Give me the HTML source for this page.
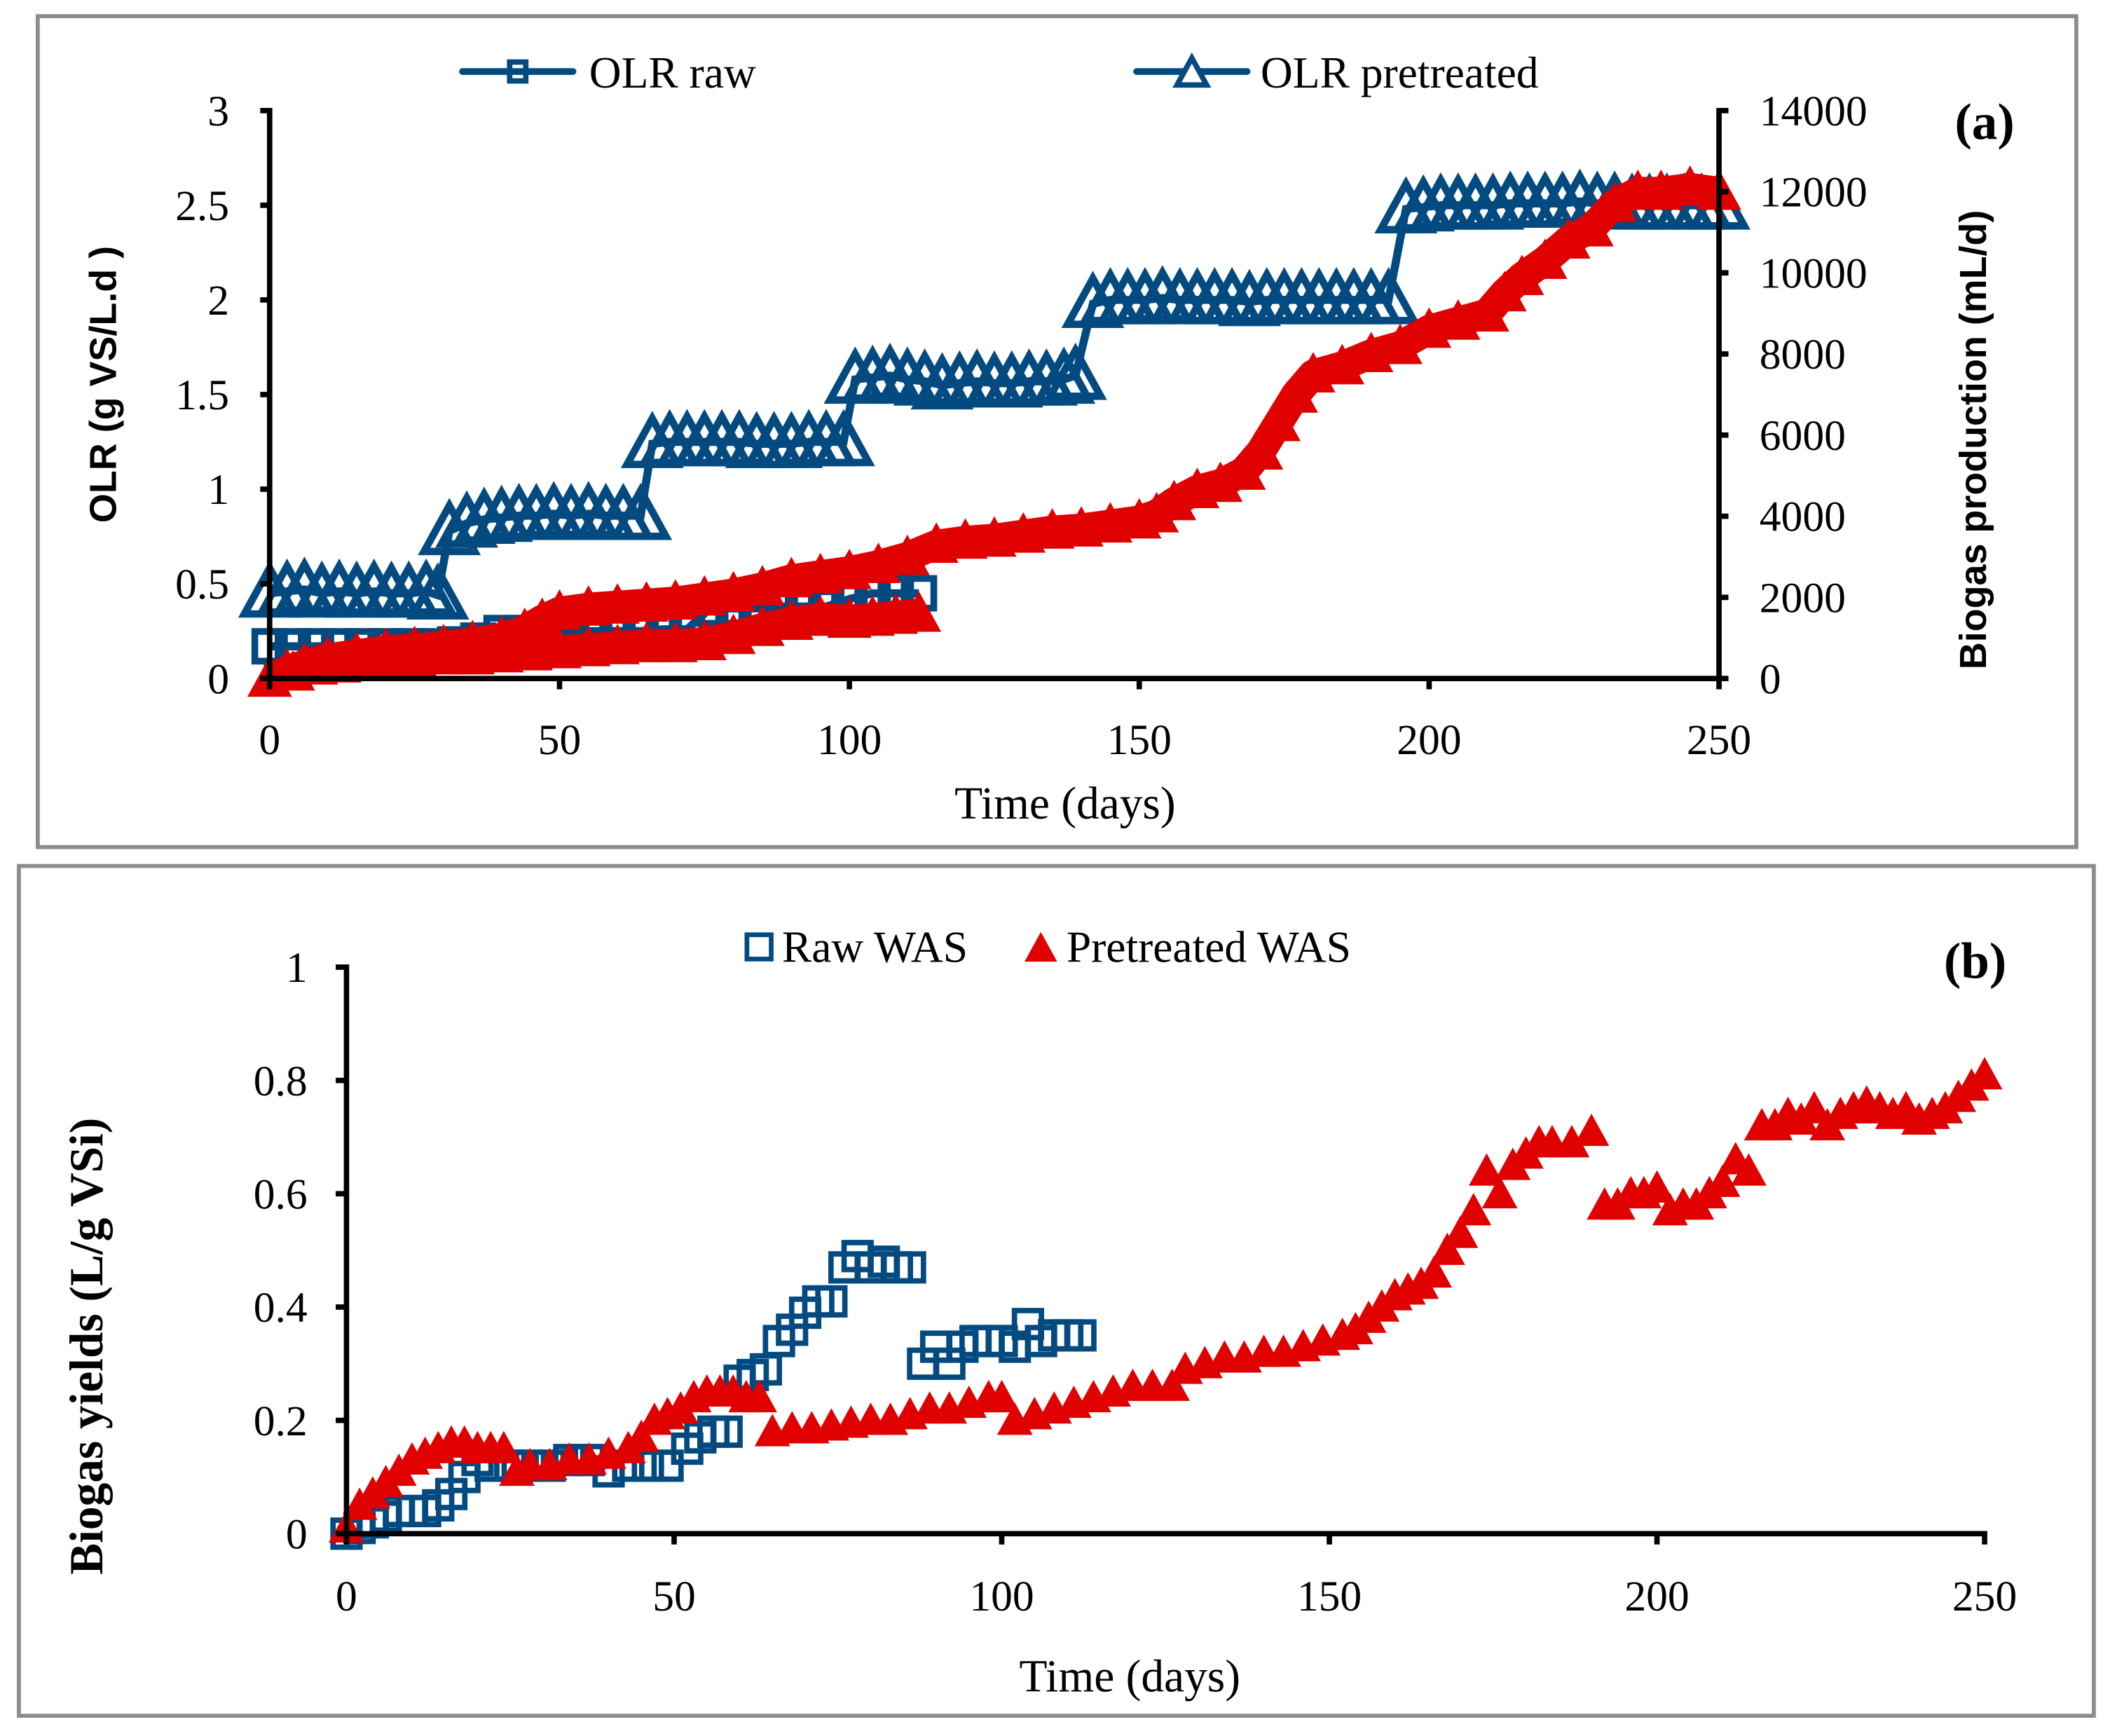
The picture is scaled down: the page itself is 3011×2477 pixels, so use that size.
<!DOCTYPE html>
<html><head><meta charset="utf-8">
<style>
html,body{margin:0;padding:0;background:#fff;}
svg{display:block;}
text{font-family:"Liberation Serif",serif;}
</style></head>
<body>
<svg id="chart" width="3011" height="2477" viewBox="0 0 1565 1287" preserveAspectRatio="none" xmlns="http://www.w3.org/2000/svg">
<rect x="0" y="0" width="1565" height="1287" fill="#fff"/>
<rect x="28" y="12" width="1512" height="616" fill="none" stroke="#8c8c8c" stroke-width="3"/>
<rect x="14" y="642" width="1539" height="630" fill="none" stroke="#8c8c8c" stroke-width="3"/>
<g id="ga"></g>
<g id="gb"></g>
</svg>
<script>
// ---- Panel (a) data ----
const olrPreDays = [0,3,6,9,12,15,18,21,24,27,29,31,34,37,40,43,46,49,52,55,58,61,64,66,69,72,75,78,81,84,87,90,93,96,99,101,104,107,110,113,116,119,122,125,128,131,134,137,139,142,145,148,151,154,157,160,163,166,169,172,175,178,181,184,187,190,193,196,199,202,205,208,211,214,217,220,223,226,229,232,235,238,241,244,247,250];
const olrPreVals = [0.45,0.46,0.47,0.45,0.46,0.45,0.46,0.45,0.45,0.46,0.44,0.78,0.82,0.84,0.85,0.86,0.86,0.87,0.86,0.87,0.86,0.86,0.86,1.24,1.25,1.25,1.25,1.25,1.25,1.24,1.24,1.24,1.25,1.25,1.25,1.58,1.59,1.6,1.58,1.57,1.55,1.56,1.57,1.56,1.56,1.57,1.57,1.58,1.6,1.98,2.0,2.0,2.0,2.01,2.0,2.0,2.0,2.0,1.99,2.0,2.0,2.0,2.0,2.0,2.0,2.0,2.0,2.48,2.49,2.5,2.5,2.5,2.5,2.51,2.51,2.51,2.51,2.52,2.51,2.51,2.5,2.5,2.5,2.5,2.5,2.5];
const olrRawDays = [0,4,8,12,16,20,24,28,32,36,40,44,48,52,56,60,64,68,72,76,80,84,88,92,96,100,104,108,112];
const olrRawVals = [0.17,0.17,0.17,0.17,0.17,0.17,0.17,0.17,0.18,0.2,0.24,0.24,0.25,0.25,0.25,0.25,0.25,0.26,0.26,0.37,0.37,0.37,0.38,0.38,0.38,0.42,0.45,0.45,0.45];
const bioPreDays = [0,3,6,10,15,20,25,30,35,40,44,47,50,55,60,65,70,75,80,85,90,95,100,105,110,115,120,125,130,135,140,145,150,153,156,160,164,168,171,174,177,180,185,190,195,200,205,210,213,216,220,224,228,232,236,240,245,250];
const bioPreVals = [0,200,350,500,600,700,750,800,900,1000,1200,1450,1650,1750,1800,1850,1900,2000,2100,2250,2450,2550,2650,2800,3000,3300,3400,3450,3550,3650,3700,3800,3900,4050,4350,4650,4800,5100,5600,6300,7000,7500,7700,8000,8200,8600,8800,9000,9500,9900,10300,10800,11100,11700,12000,12000,12100,12000];
const bioRawDays = [0,4,8,12,16,20,25,30,35,40,45,50,55,60,65,70,75,80,85,90,95,100,104,108,112];
const bioRawVals = [0,150,300,350,400,450,500,550,550,600,650,700,750,800,850,850,900,1050,1250,1400,1500,1450,1500,1550,1600];
const aXTicks = [0,50,100,150,200,250];
const aYTicks = [0,0.5,1,1.5,2,2.5,3];
const aYTickLabels = ["0","0.5","1","1.5","2","2.5","3"];
const aY2Ticks = [0,2000,4000,6000,8000,10000,12000,14000];

// ---- Panel (b) data ----
const rawDays = [0,2,4,6,8,10,12,14,16,18,20,22,25,28,31,34,37,40,43,46,49,52,54,56,58,60,62,64,66,68,70,72,74,76,78,80,82,84,86,88,90,92,94,96,98,100,102,104,106,108,110,112];
const rawVals = [0,0.01,0.02,0.03,0.04,0.04,0.04,0.05,0.07,0.1,0.13,0.12,0.12,0.12,0.12,0.13,0.13,0.11,0.12,0.12,0.12,0.15,0.17,0.18,0.18,0.27,0.28,0.29,0.34,0.36,0.39,0.41,0.41,0.47,0.49,0.47,0.48,0.47,0.47,0.3,0.33,0.3,0.33,0.34,0.34,0.34,0.33,0.37,0.34,0.35,0.35,0.35];
const preDays = [0,2,4,6,8,10,12,14,16,18,20,22,24,26,28,31,34,37,40,43,45,47,49,51,53,55,57,59,61,63,65,68,71,74,77,80,83,86,89,92,95,98,100,102,105,108,111,114,117,120,123,126,128,131,134,137,140,143,146,149,152,154,156,158,160,162,164,166,168,170,172,174,176,178,180,182,184,187,190,192,194,196,198,200,202,204,206,208,210,212,214,216,218,220,222,224,226,228,230,232,234,236,238,240,242,244,246,248,250];
const preVals = [0.01,0.05,0.07,0.09,0.11,0.13,0.14,0.15,0.16,0.16,0.15,0.15,0.15,0.11,0.12,0.12,0.13,0.13,0.14,0.15,0.17,0.2,0.21,0.22,0.24,0.25,0.25,0.25,0.24,0.24,0.18,0.185,0.185,0.19,0.195,0.2,0.2,0.21,0.22,0.22,0.23,0.24,0.24,0.2,0.21,0.22,0.23,0.24,0.25,0.26,0.26,0.26,0.29,0.3,0.31,0.31,0.32,0.32,0.33,0.34,0.35,0.36,0.38,0.4,0.42,0.43,0.44,0.46,0.5,0.53,0.57,0.64,0.6,0.65,0.67,0.69,0.69,0.69,0.71,0.58,0.58,0.6,0.6,0.61,0.57,0.58,0.58,0.6,0.62,0.66,0.64,0.72,0.72,0.74,0.73,0.75,0.72,0.74,0.75,0.76,0.75,0.74,0.75,0.73,0.74,0.75,0.77,0.79,0.81];
const bXTicks = [0,50,100,150,200,250];
const bYTicks = [0,0.2,0.4,0.6,0.8,1];
const bYTickLabels = ["0","0.2","0.4","0.6","0.8","1"];

const NS = "http://www.w3.org/2000/svg";
const BLUE = "#034a80", RED = "#e00000";
function mk(parent, tag, attrs, txt) {
  const e = document.createElementNS(NS, tag);
  for (const k in attrs) e.setAttribute(k, attrs[k]);
  if (txt !== undefined) e.textContent = txt;
  parent.appendChild(e);
  return e;
}
function tri(cx, cy, s) {
  return (cx) + "," + (cy - s * 0.55) + " " + (cx - s * 0.55) + "," + (cy + s * 0.45) + " " + (cx + s * 0.55) + "," + (cy + s * 0.45);
}

// ===== Panel A =====
const ga = document.getElementById("ga");
const aX = d => 200 + d / 250 * 1075;
const aY = v => 503 - v / 3 * 421;
const aY2 = v => 503 - v / 14000 * 421;

function redBand(g, days, vals, yf, name) {
  const grp = mk(g, "g", {});
  
  
  mk(grp, "polyline", {points: days.map((d, i) => aX(d) + "," + yf(vals[i])).join(" "), fill: "none", stroke: RED, "stroke-width": 22, "stroke-linejoin": "round"});
  days.forEach((d, i) => {
    const p = mk(grp, "polygon", {points: tri(aX(d), yf(vals[i]), 30), fill: RED});
    
    
  });
}
function blueSeries(g, days, vals, name, marker) {
  const grp = mk(g, "g", {});
  
  
  mk(grp, "polyline", {points: days.map((d, i) => aX(d) + "," + aY(vals[i])).join(" "), fill: "none", stroke: BLUE, "stroke-width": 6});
  days.forEach((d, i) => {
    let p;
    if (marker === "tri") {
      p = mk(grp, "polygon", {points: tri(aX(d), aY(vals[i]), 34), fill: "none", stroke: BLUE, "stroke-width": 5.5});
    } else {
      p = mk(grp, "rect", {x: aX(d) - 11, y: aY(vals[i]) - 11, width: 22, height: 22, fill: "none", stroke: BLUE, "stroke-width": 5});
    }
    
    
  });
}
blueSeries(ga, olrRawDays, olrRawVals, "olr-raw-series", "sq");
redBand(ga, bioRawDays, bioRawVals, aY2, "biogas-raw-series");
blueSeries(ga, olrPreDays, olrPreVals, "olr-pretreated-series", "tri");
redBand(ga, bioPreDays, bioPreVals, aY2, "biogas-pretreated-series");

const axA = mk(ga, "g", {});


mk(axA, "line", {x1: 200, y1: 80, x2: 200, y2: 505, stroke: "#000", "stroke-width": 4});
mk(axA, "line", {x1: 1275, y1: 80, x2: 1275, y2: 505, stroke: "#000", "stroke-width": 4});
mk(axA, "line", {x1: 198, y1: 503, x2: 1277, y2: 503, stroke: "#000", "stroke-width": 4});
aYTicks.forEach((v, i) => {
  mk(axA, "line", {x1: 193, y1: aY(v), x2: 200, y2: aY(v), stroke: "#000", "stroke-width": 4});
  const t = mk(axA, "text", {x: 170, y: aY(v) + 11, "text-anchor": "end", "font-size": 32}, aYTickLabels[i]);
  
  
});
aY2Ticks.forEach(v => {
  mk(axA, "line", {x1: 1275, y1: aY2(v), x2: 1282, y2: aY2(v), stroke: "#000", "stroke-width": 4});
  const t = mk(axA, "text", {x: 1305, y: aY2(v) + 11, "font-size": 32}, String(v));
  
  
});
aXTicks.forEach(v => {
  mk(axA, "line", {x1: aX(v), y1: 503, x2: aX(v), y2: 511, stroke: "#000", "stroke-width": 4});
  const t = mk(axA, "text", {x: aX(v), y: 559, "text-anchor": "middle", "font-size": 32}, String(v));
  
  
});
</script>
<script>
(function(){
const ga = document.getElementById("ga");
let t;
t = mk(ga, "text", {x: 790, y: 607, "text-anchor": "middle", "font-size": 34}, "Time (days)");


t = mk(ga, "text", {x: 0, y: 0, transform: "translate(86,285) rotate(-90)", "text-anchor": "middle", "font-size": 28, "font-weight": "bold", style: "font-family:'Liberation Sans',sans-serif"}, "OLR (g VS/L.d )");


t = mk(ga, "text", {x: 0, y: 0, transform: "translate(1473,326) rotate(-90)", "text-anchor": "middle", "font-size": 28, "font-weight": "bold", style: "font-family:'Liberation Sans',sans-serif"}, "Biogas production (mL/d)");


t = mk(ga, "text", {x: 1472, y: 103, "text-anchor": "middle", "font-size": 38, "font-weight": "bold"}, "(a)");


const lg = mk(ga, "g", {});


mk(lg, "line", {x1: 343, y1: 53, x2: 425, y2: 53, stroke: BLUE, "stroke-width": 5, "stroke-linecap": "round"});
mk(lg, "rect", {x: 378, y: 46, width: 12, height: 14, fill: "none", stroke: BLUE, "stroke-width": 4});
t = mk(lg, "text", {x: 437, y: 65, "font-size": 33}, "OLR raw");


mk(lg, "line", {x1: 843, y1: 53, x2: 925, y2: 53, stroke: BLUE, "stroke-width": 5, "stroke-linecap": "round"});
mk(lg, "polygon", {points: tri(884, 54, 20), fill: "#fff", stroke: BLUE, "stroke-width": 4});
t = mk(lg, "text", {x: 935, y: 65, "font-size": 33}, "OLR pretreated");



// ===== Panel B =====
const gb = document.getElementById("gb");
const bX = d => 257 + d / 250 * 1215;
const bY = v => 1137 - v * 420;
const rg = mk(gb, "g", {});


rawDays.forEach((d, i) => {
  const p = mk(rg, "rect", {x: bX(d) - 10, y: bY(rawVals[i]) - 10, width: 20, height: 20, fill: "none", stroke: BLUE, "stroke-width": 4});
  
  
});
const pg = mk(gb, "g", {});


preDays.forEach((d, i) => {
  const p = mk(pg, "polygon", {points: tri(bX(d), bY(preVals[i]), 24), fill: RED});
  
  
});
const axB = mk(gb, "g", {});


mk(axB, "line", {x1: 257, y1: 715, x2: 257, y2: 1139, stroke: "#000", "stroke-width": 4});
mk(axB, "line", {x1: 255, y1: 1137, x2: 1474, y2: 1137, stroke: "#000", "stroke-width": 4});
bYTicks.forEach((v, i) => {
  mk(axB, "line", {x1: 249, y1: bY(v), x2: 257, y2: bY(v), stroke: "#000", "stroke-width": 4});
  const tt = mk(axB, "text", {x: 228, y: bY(v) + 11, "text-anchor": "end", "font-size": 32}, bYTickLabels[i]);
  
  
});
bXTicks.forEach(v => {
  mk(axB, "line", {x1: bX(v), y1: 1137, x2: bX(v), y2: 1145, stroke: "#000", "stroke-width": 4});
  const tt = mk(axB, "text", {x: bX(v), y: 1194, "text-anchor": "middle", "font-size": 32}, String(v));
  
  
});
t = mk(gb, "text", {x: 838, y: 1254, "text-anchor": "middle", "font-size": 34}, "Time (days)");


t = mk(gb, "text", {x: 0, y: 0, transform: "translate(76,998) rotate(-90)", "text-anchor": "middle", "font-size": 35, "font-weight": "bold"}, "Biogas yields (L/g VSi)");


t = mk(gb, "text", {x: 1465, y: 725, "text-anchor": "middle", "font-size": 38, "font-weight": "bold"}, "(b)");


const lb = mk(gb, "g", {});


mk(lb, "rect", {x: 554, y: 693, width: 18, height: 18, fill: "none", stroke: BLUE, "stroke-width": 3.5});
t = mk(lb, "text", {x: 580, y: 713, "font-size": 33}, "Raw WAS");


mk(lb, "polygon", {points: tri(772, 703, 22), fill: RED});
t = mk(lb, "text", {x: 791, y: 713, "font-size": 33}, "Pretreated WAS");


})();
</script>
</body></html>
